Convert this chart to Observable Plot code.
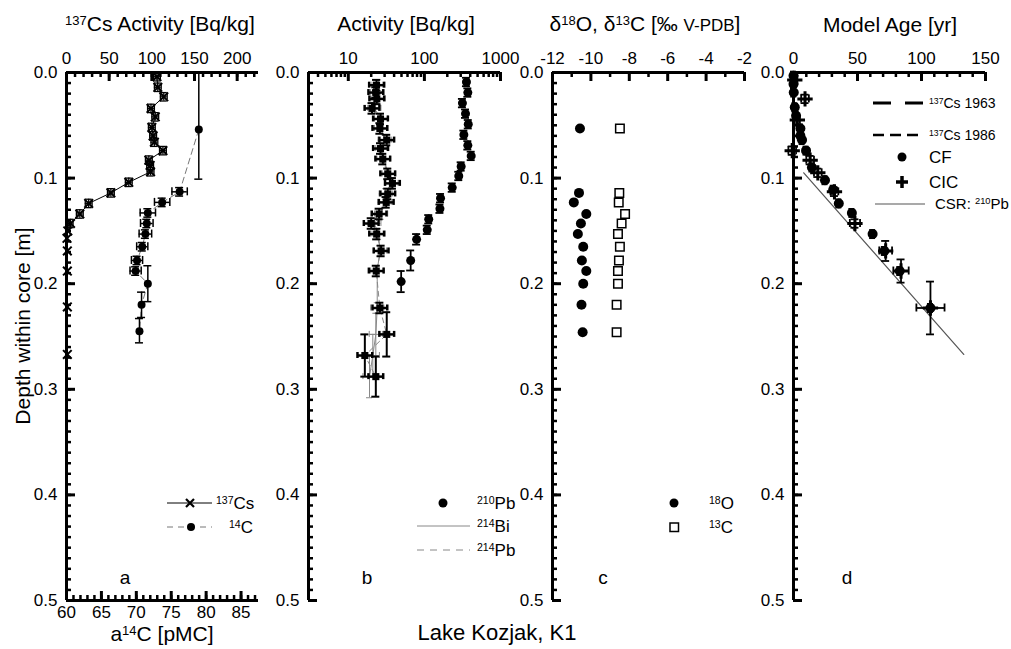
<!DOCTYPE html>
<html><head><meta charset="utf-8">
<script src="https://cdn.jsdelivr.net/npm/d3@7"></script>
<script src="https://cdn.jsdelivr.net/npm/@observablehq/plot@0.6"></script>
<style>
body{margin:0;background:#fff;font-family:Arial,"Liberation Sans",sans-serif;}
#root{position:relative;width:1011px;height:649px;overflow:hidden;background:#fff;}
.t{position:absolute;white-space:nowrap;color:#000;line-height:1;transform:translate(0,-50%);}
.c{transform:translate(-50%,-50%);}
.s{font-size:0.62em;position:relative;top:-0.5em;}
</style></head><body><div id="root"></div><script>
// ---------- data ----------
const depthMajor = [0, 0.1, 0.2, 0.3, 0.4, 0.5];
const depthMinor = d3.range(0, 0.5001, 0.01);

// panel a: 137Cs
const csDepth = [0.004,0.014,0.023,0.034,0.042,0.052,0.060,0.066,0.074,0.083,0.088,0.094,0.104,0.114,0.124,0.134,0.143,0.150,0.157,0.169,0.188,0.222,0.267];
const csAct   = [106,107,114,99,104,100,101.5,103,113,96.5,98,98.5,73,52,26,15.6,4.7,1.5,0.6,1,1,1,1];
const csErr   = [4,4,4,4,4,4,4,4,4,4,4,4,4,4,4,4,3,0,0,0,0,0,0];
// panel a: 14C
const c14Depth = [0.054,0.113,0.123,0.133,0.143,0.153,0.165,0.178,0.188,0.200,0.220,0.245];
const c14Pmc   = [78.95,76.2,73.7,71.65,71.5,71.3,70.85,70.1,69.9,71.65,70.75,70.45];
const c14ErrX  = [0,1.1,1.1,1.1,0.9,0.9,0.8,0.8,0.8,0,0,0];
const c14Top   = [0.0,0.109,0.119,0.129,0.139,0.149,0.161,0.174,0.184,0.183,0.208,0.233];
const c14Bot   = [0.101,0.117,0.127,0.137,0.147,0.157,0.169,0.182,0.192,0.217,0.232,0.256];

// panel b: 210Pb
const pb210Depth = [0.009,0.019,0.029,0.039,0.049,0.059,0.069,0.079,0.089,0.098,0.109,0.119,0.129,0.139,0.149,0.158,0.178,0.198];
const pb210Act   = [357,372,316,347,377,330,372,412,304,283,232,163,160,114,109,79,66,49.5];
const pb210ErrY  = [0.004,0.004,0.004,0.004,0.004,0.004,0.004,0.004,0.004,0.004,0.004,0.004,0.004,0.004,0.004,0.005,0.0095,0.01];
// panel b: 214Pb and 214Bi
const b214Depth = [0.012,0.019,0.025,0.034,0.044,0.053,0.064,0.072,0.082,0.096,0.105,0.115,0.123,0.134,0.143,0.153,0.169,0.188,0.223,0.248,0.268,0.288];
const pb214Act  = [23.5,23,23.7,20.5,26.5,26,32,26.5,28.4,33,38,33,31.5,25.4,20,23.6,27,23.3,26,32,16.5,23];
const pb214ErrY = [0.005,0.005,0.005,0.005,0.005,0.005,0.005,0.005,0.005,0.005,0.005,0.005,0.005,0.005,0.005,0.005,0.005,0.005,0.005,0.021,0.02,0.019];
const bi214Act  = [25,24,25,22,27,27,30,28,29,34,37,31,30,27,22,25,26,24,24,23,21,19];
const bi214ErrY = [0.005,0.005,0.005,0.005,0.005,0.005,0.005,0.005,0.005,0.005,0.005,0.005,0.005,0.005,0.005,0.005,0.005,0.005,0.005,0.02,0.02,0.02];

// panel c: stable isotopes
const isoDepth = [0.053,0.114,0.123,0.134,0.143,0.153,0.165,0.178,0.188,0.200,0.220,0.246];
const d18O     = [-10.57,-10.62,-10.89,-10.24,-10.52,-10.68,-10.40,-10.47,-10.24,-10.40,-10.49,-10.43];
const d13C     = [-8.49,-8.52,-8.55,-8.22,-8.40,-8.59,-8.49,-8.54,-8.59,-8.59,-8.66,-8.66];

// panel d: model ages
const cfDepth = [0.003,0.011,0.019,0.033,0.041,0.053,0.060,0.064,0.074,0.090,0.102,0.111,0.124,0.133,0.153,0.169,0.188,0.223];
const cfAge   = [0,0,0.2,1,2,5.4,5.4,6.7,9.8,14.4,24.6,31,35.4,45.6,61.8,71,83,107];
const cicDepth = [0.007,0.025,0.045,0.074,0.083,0.095,0.113,0.143,0.169,0.188,0.223];
const cicAge   = [1,9,3,-1,13,19,32,48,72,84,107];
const cicErrX  = [2,3,2,3,3,3,3,4,5,6,11];
const cicErrY  = [0.004,0.004,0.004,0.004,0.004,0.004,0.004,0.004,0.0095,0.011,0.025];
const csrAge   = [8,133];
const csrDepth = [0.095,0.267];

// axis tick labels
const csTicks   = [0,50,100,150,200];
const pmcTicks  = [60,65,70,75,80,85];
const actTicks  = [10,100,1000];
const isoTicks  = [-12,-10,-8,-6,-4,-2];
const ageTicks  = [0,50,100,150];

// ---------- helpers ----------
const zip = (keys, ...arrs) => arrs[0].map((_, i) => Object.fromEntries(keys.map((k, j) => [k, arrs[j][i]])));
const PW = 192, PH = 528, ML = 60, MR = 20, MT = 72, MB = 49;
const FONT = "Arial, 'Liberation Sans', sans-serif";

function errH(data, {x1, x2, y, stroke = "#000", strokeWidth = 1.5, cap = 3.5}) {
  return [
    Plot.ruleY(data, {y, x1, x2, stroke, strokeWidth}),
    Plot.ruleX(data, {x: x1, y1: y, y2: y, insetTop: -cap, insetBottom: -cap, stroke, strokeWidth}),
    Plot.ruleX(data, {x: x2, y1: y, y2: y, insetTop: -cap, insetBottom: -cap, stroke, strokeWidth})
  ];
}
function errV(data, {x, y1, y2, stroke = "#000", strokeWidth = 1.5, cap = 3.5}) {
  return [
    Plot.ruleX(data, {x, y1, y2, stroke, strokeWidth}),
    Plot.ruleY(data, {y: y1, x1: x, x2: x, insetLeft: -cap, insetRight: -cap, stroke, strokeWidth}),
    Plot.ruleY(data, {y: y2, x1: x, x2: x, insetLeft: -cap, insetRight: -cap, stroke, strokeWidth})
  ];
}
function frameMarks(xDomain, topMajor, topMinor, topLabels, fmt) {
  return [
    Plot.tickY(depthMinor, {y: d => d, insetRight: PW - 5, strokeWidth: 2.5}),
    Plot.tickY(depthMajor, {y: d => d, insetRight: PW - 9, strokeWidth: 3}),
    Plot.ruleX([xDomain[0]], {strokeWidth: 3}),
    Plot.ruleY([0], {strokeWidth: 3}),
    Plot.tickX(topMinor, {x: d => d, insetBottom: PH - 5, strokeWidth: 2.5}),
    Plot.tickX(topMajor, {x: d => d, insetBottom: PH - 9, strokeWidth: 3}),
    Plot.axisX(topLabels, {anchor: "top", tickSize: 0, tickPadding: 9, tickFormat: fmt, label: null, fontSize: 17}),
    Plot.axisY(depthMajor, {anchor: "left", tickSize: 0, tickPadding: 9, tickFormat: d3.format(".1f"), label: null, fontSize: 17})
  ];
}
function panel(left, xScale, marks) {
  const p = Plot.plot({
    width: ML + PW + MR, height: MT + PH + MB,
    marginLeft: ML, marginRight: MR, marginTop: MT, marginBottom: MB,
    style: {fontFamily: FONT, fontSize: "17px", color: "#000", background: "transparent", overflow: "visible"},
    x: {...xScale, axis: null},
    y: {domain: [0, 0.5], reverse: true, axis: null},
    marks
  });
  p.style.position = "absolute";
  p.style.left = (left - ML) + "px";
  p.style.top = "0px";
  p.style.maxWidth = "none";
  document.getElementById("root").appendChild(p);
}

// ---------- panel a ----------
const toCs = p => (p - 60) * 225 / 27.5;
const cs = zip(["d", "v", "e"], csDepth, csAct, csErr);
const c14 = zip(["d", "p", "ex", "t", "b"], c14Depth, c14Pmc, c14ErrX, c14Top, c14Bot).map(o => ({...o, v: toCs(o.p)}));
panel(66, {domain: [0, 225]}, [
  Plot.line(cs, {x: "v", y: "d", stroke: "#000", strokeWidth: 1}),
  ...errH(cs.filter(o => o.e > 0), {x1: o => o.v - o.e, x2: o => o.v + o.e, y: "d", strokeWidth: 1.3, cap: 3}),
  ...errV(cs.filter(o => o.e > 0), {x: "v", y1: o => o.d - 0.004, y2: o => o.d + 0.004, strokeWidth: 1.3, cap: 3.5}),
  Plot.dot(cs, {x: "v", y: "d", symbol: "times", r: 4, stroke: "#000", strokeWidth: 2}),
  Plot.line(c14, {x: "v", y: "d", stroke: "#777", strokeWidth: 1, strokeDasharray: "6,4"}),
  ...errH(c14.filter(o => o.ex > 0), {x1: o => toCs(o.p - o.ex), x2: o => toCs(o.p + o.ex), y: "d", strokeWidth: 1.5, cap: 4}),
  ...errV(c14, {x: "v", y1: "t", y2: "b", strokeWidth: 1.5, cap: 4}),
  Plot.dot(c14, {x: "v", y: "d", r: 4, fill: "#000"}),
  ...frameMarks([0, 225], csTicks, d3.range(0, 226, 10), csTicks, d => String(d)),
  Plot.ruleY([0.5], {strokeWidth: 3}),
  Plot.tickX(d3.range(60, 88, 1).map(toCs), {x: d => d, insetTop: PH - 5, strokeWidth: 2.5}),
  Plot.tickX(pmcTicks.map(toCs), {x: d => d, insetTop: PH - 9, strokeWidth: 3}),
  Plot.axisX(pmcTicks.map(toCs), {anchor: "bottom", tickSize: 0, tickPadding: 5, label: null, fontSize: 17,
    tickFormat: d => String(Math.round(d * 27.5 / 225 + 60))})
]);

// ---------- panel b ----------
const pb210 = zip(["d", "v", "e"], pb210Depth, pb210Act, pb210ErrY);
const pb214 = zip(["d", "v", "e"], b214Depth, pb214Act, pb214ErrY);
const bi214 = zip(["d", "v", "e"], b214Depth, bi214Act, bi214ErrY);
const logMinor = [3,4,5,6,7,8,9,20,30,40,50,60,70,80,90,200,300,400,500,600,700,800,900];
panel(308, {type: "log", domain: [3, 1000]}, [
  ...errH(bi214, {x1: o => o.v / 1.22, x2: o => o.v * 1.22, y: "d", stroke: "#888", strokeWidth: 1, cap: 3}),
  ...errV(bi214, {x: "v", y1: o => o.d - o.e, y2: o => o.d + o.e, stroke: "#888", strokeWidth: 1, cap: 3}),
  Plot.line(bi214, {x: "v", y: "d", stroke: "#888", strokeWidth: 1}),
  Plot.line(pb214, {x: "v", y: "d", stroke: "#888", strokeWidth: 1, strokeDasharray: "5,4"}),
  ...errH(pb214, {x1: o => o.v / 1.25, x2: o => o.v * 1.25, y: "d", strokeWidth: 2.5, cap: 3}),
  ...errV(pb214, {x: "v", y1: o => o.d - o.e, y2: o => o.d + o.e, strokeWidth: 2, cap: 4}),
  Plot.dot(pb214, {x: "v", y: "d", symbol: "square", r: 4, fill: "#000"}),
  ...errV(pb210, {x: "v", y1: o => o.d - o.e, y2: o => o.d + o.e, strokeWidth: 1.8, cap: 4}),
  Plot.dot(pb210, {x: "v", y: "d", r: 4.5, fill: "#000"}),
  ...frameMarks([3, 1000], actTicks, logMinor, actTicks, d3.format("d"))
]);

// ---------- panel c ----------
const iso = zip(["d", "o", "c"], isoDepth, d18O, d13C);
panel(552, {domain: [-12, -2]}, [
  Plot.dot(iso, {x: "o", y: "d", r: 5, fill: "#000"}),
  Plot.dot(iso, {x: "c", y: "d", symbol: "square", r: 4.8, fill: "#fff", stroke: "#000", strokeWidth: 1.5}),
  ...frameMarks([-12, -2], isoTicks, [-11,-9,-7,-5,-3], isoTicks, d => String(d))
]);

// ---------- panel d ----------
const cf = zip(["d", "v"], cfDepth, cfAge);
const cic = zip(["d", "v", "ex", "ey"], cicDepth, cicAge, cicErrX, cicErrY);
const csr = zip(["d", "v"], csrDepth, csrAge);
panel(793, {domain: [0, 150]}, [
  Plot.line(csr, {x: "v", y: "d", stroke: "#555", strokeWidth: 1.2}),
  ...errH(cf, {x1: o => o.v - 2, x2: o => o.v + 2, y: "d", strokeWidth: 1.5, cap: 3}),
  ...errV(cf, {x: "v", y1: o => o.d - 0.004, y2: o => o.d + 0.004, strokeWidth: 1.5, cap: 3}),
  Plot.dot(cf, {x: "v", y: "d", r: 5, fill: "#000"}),
  ...errH(cic, {x1: o => o.v - o.ex, x2: o => o.v + o.ex, y: "d", strokeWidth: 1.8, cap: 4}),
  ...errV(cic, {x: "v", y1: o => o.d - o.ey, y2: o => o.d + o.ey, strokeWidth: 1.8, cap: 4}),
  Plot.dot(cic, {x: "v", y: "d", symbol: "plus", r: 5, stroke: "#000", strokeWidth: 3}),
  ...frameMarks([0, 150], ageTicks, d3.range(0, 151, 10), ageTicks, d => String(d))
]);

// ---------- overlay text & legends ----------
const root = document.getElementById("root");
function txt(html, x, y, size, center = false, extra = "") {
  const el = document.createElement("div");
  el.className = "t" + (center ? " c" : "");
  el.style.left = x + "px"; el.style.top = y + "px"; el.style.fontSize = size + "px";
  el.style.cssText += extra;
  el.innerHTML = html;
  root.appendChild(el);
}
const sup = s => `<span class="s">${s}</span>`;
txt(`${sup("137")}Cs Activity [Bq/kg]`, 160, 23, 21, true);
txt(`Activity [Bq/kg]`, 406, 23, 21, true);
txt(`δ${sup("18")}O, δ${sup("13")}C [‰ <span style="font-size:17px">V-PDB</span>]`, 645, 23, 21, true);
txt(`Model Age [yr]`, 890, 24, 21, true);
txt(`Depth within core [m]`, 22, 326, 21, true, "transform:translate(-50%,-50%) rotate(-90deg);");
txt(`a${sup("14")}C [pMC]`, 162, 633, 21, true);
txt(`Lake Kozjak, K1`, 497, 633, 22, true);
txt(`a`, 125, 577, 19, true);
txt(`b`, 367, 577, 19, true);
txt(`c`, 603, 577, 19, true);
txt(`d`, 847, 577, 19, true);
// legend texts
txt(`${sup("137")}Cs`, 216, 503, 17);
txt(`${sup("14")}C`, 229, 527, 17);
txt(`${sup("210")}Pb`, 477, 503, 17);
txt(`${sup("214")}Bi`, 477, 526, 17);
txt(`${sup("214")}Pb`, 477, 550, 17);
txt(`${sup("18")}O`, 709, 503, 17);
txt(`${sup("13")}C`, 709, 527, 17);
txt(`${sup("137")}Cs 1963`, 929, 103, 14);
txt(`${sup("137")}Cs 1986`, 929, 135, 14);
txt(`CF`, 929, 157, 17);
txt(`CIC`, 929, 182, 17);
txt(`CSR: ${sup("210")}Pb`, 935, 204, 15);
// legend symbols
const ns = "http://www.w3.org/2000/svg";
const svg = document.createElementNS(ns, "svg");
svg.setAttribute("width", 1011); svg.setAttribute("height", 649);
svg.style.cssText = "position:absolute;left:0;top:0;pointer-events:none";
svg.innerHTML = `
<line x1="167" x2="212" y1="503" y2="503" stroke="#000" stroke-width="1"/>
<path d="M186,499L194,507M194,499L186,507" stroke="#000" stroke-width="2.2"/>
<line x1="167" x2="212" y1="527" y2="527" stroke="#777" stroke-width="1" stroke-dasharray="6,5"/>
<circle cx="191" cy="527" r="4" fill="#000"/>
<circle cx="443" cy="503" r="4.5" fill="#000"/>
<line x1="417" x2="470" y1="526" y2="526" stroke="#888" stroke-width="1"/>
<line x1="417" x2="470" y1="550" y2="550" stroke="#888" stroke-width="1" stroke-dasharray="7,6"/>
<circle cx="674" cy="503" r="4.5" fill="#000"/>
<rect x="670" y="523" width="8.5" height="8.5" fill="#fff" stroke="#000" stroke-width="1.5"/>
<line x1="873" x2="923" y1="103" y2="103" stroke="#000" stroke-width="3" stroke-dasharray="18,14"/>
<line x1="873" x2="923" y1="135" y2="135" stroke="#000" stroke-width="2.5" stroke-dasharray="11,6"/>
<circle cx="902" cy="157" r="4.5" fill="#000"/>
<path d="M902,176V188M896,182H908" stroke="#000" stroke-width="3.5"/>
<line x1="875" x2="925" y1="204" y2="204" stroke="#555" stroke-width="1.2"/>
`;
root.appendChild(svg);
</script></body></html>
